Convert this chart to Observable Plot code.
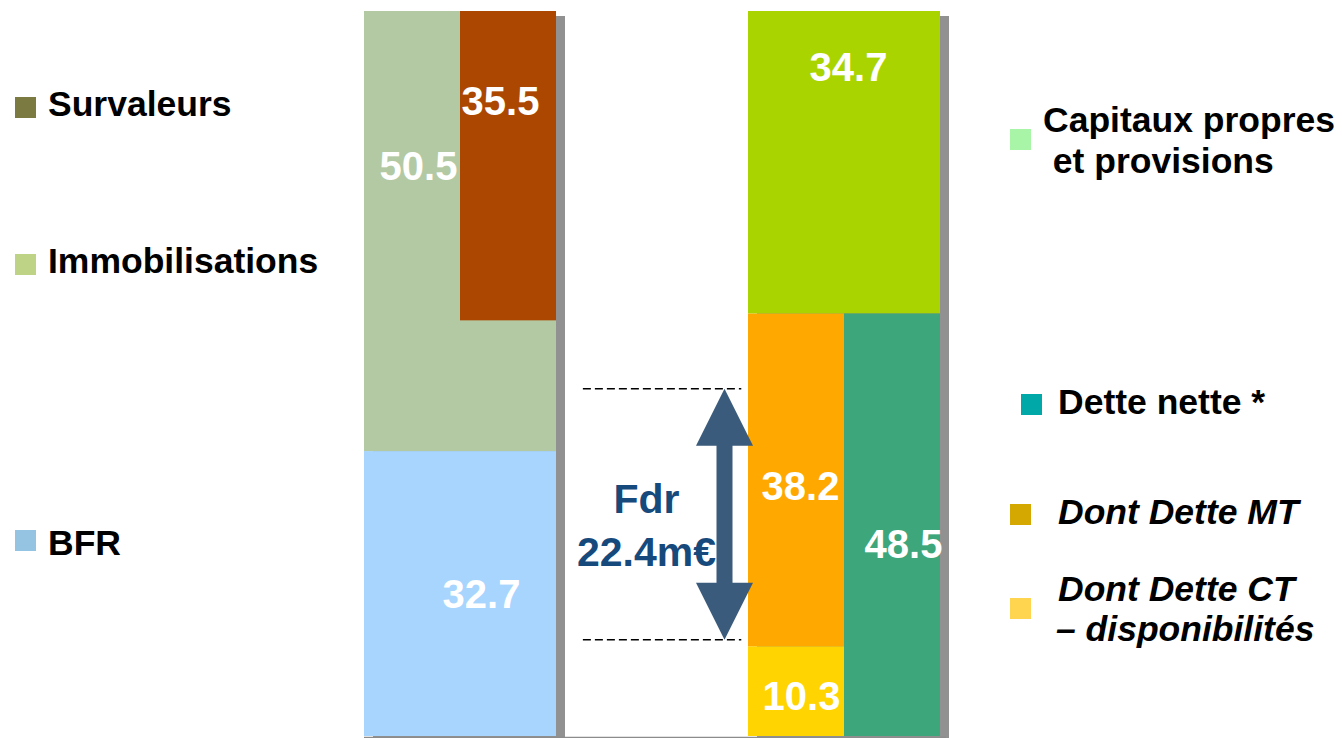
<!DOCTYPE html>
<html>
<head>
<meta charset="utf-8">
<script src="https://cdn.jsdelivr.net/npm/d3@7"></script>
<script src="https://cdn.jsdelivr.net/npm/@observablehq/plot@0.6"></script>
<style>
  body { margin: 0; background: #fff; font-family: "Liberation Sans", Arial, sans-serif; }
  #wrap { position: relative; width: 1342px; height: 738px; overflow: hidden; }
  #wrap > svg { position: absolute; left: 0; top: 0; }
</style>
</head>
<body>
<div id="wrap"></div>
<script>
// ---------- DATA ----------
const actifCategories = ["BFR", "Immobilisations"];
const actifValues = [32.7, 50.5];
const survaleursValue = 35.5;

const passifCategories = ["Dont Dette CT – disponibilités", "Dont Dette MT", "Capitaux propres et provisions"];
const passifValues = [10.3, 38.2, 34.7];
const detteNetteValue = 48.5;

const fdrValue = 22.4;
const fdrBounds = [11.1, 39.9];   // as drawn in the picture
const fdrLabel = "Fdr\n22.4m€";

const legendLeftLabels = [["Survaleurs"], ["Immobilisations"], ["BFR"]];
const legendRightLabels = [["Capitaux propres", " et provisions"], ["Dette nette *"], ["Dont Dette MT"], ["Dont Dette CT", "– disponibilités"]];

// ---------- STYLES / LAYOUT ----------
const barColors = {
  "BFR": "#A8D5FE",
  "Immobilisations": "#B3C9A3",
  "Survaleurs": "#AB4700",
  "Dont Dette CT – disponibilités": "#FFD400",
  "Dont Dette MT": "#FFA800",
  "Capitaux propres et provisions": "#AAD400",
  "Dette nette": "#3DA67B"
};
const W = 1342, H = 738;
const mTop = 11, mBottom = 2, mLeft = 364, mRight = 402;
const total = d3.sum(actifValues);
const pxPerX = (W - mLeft - mRight) / 6;
const pxPerY = (H - mTop - mBottom) / total;
const colStart = {actif: 0, passif: 4};

// stacked segments
function stack(cats, vals, col) {
  let acc = 0;
  return cats.map((c, i) => {
    const s = {name: c, value: vals[i], x1: colStart[col], x2: colStart[col] + 2, y1: acc, y2: acc + vals[i]};
    acc += vals[i];
    return s;
  });
}
const actif = stack(actifCategories, actifValues, "actif");
const passif = stack(passifCategories, passifValues, "passif");
const survaleurs = {name: "Survaleurs", value: survaleursValue, x1: 1, x2: 2, y1: total - survaleursValue, y2: total};
const detteNette = {name: "Dette nette", value: detteNetteValue, x1: 5, x2: 6, y1: 0, y2: detteNetteValue};
const segments = [...actif, survaleurs, ...passif, detteNette].map(d => ({...d, color: barColors[d.name]}));
const columns = [
  {x1: 0, x2: 2, y1: 0, y2: total},
  {x1: 4, x2: 6, y1: 0, y2: d3.sum(passifValues)}
];

// label placements: anchored on segment (left half or centre), pixel offsets
const labelSpec = [
  {seg: actif[1], leftHalf: true, dx: 6, dy: -64},
  {seg: survaleurs, leftHalf: false, dx: -8, dy: -64},
  {seg: actif[0], leftHalf: false, dx: 21, dy: 1},
  {seg: passif[2], leftHalf: false, dx: 4, dy: -94},
  {seg: passif[1], leftHalf: true, dx: 4, dy: 7},
  {seg: passif[0], leftHalf: true, dx: 5, dy: 6},
  {seg: detteNette, leftHalf: false, dx: 11, dy: 20}
];
const labels = labelSpec.map(s => ({
  x: s.leftHalf ? s.seg.x1 + 0.5 : (s.seg.x1 + s.seg.x2) / 2,
  y: (s.seg.y1 + s.seg.y2) / 2,
  text: s.seg.value.toFixed(1), dx: s.dx, dy: s.dy
}));

// Fdr arrow polygon (data units, head sizes from pixels)
const arrowX = 3.75;
const shaftHalf = 8 / pxPerX, headHalf = 28.5 / pxPerX, headH = 57 / pxPerY;
const [lo, hi] = fdrBounds;
const arrowPts = [
  [arrowX, hi], [arrowX + headHalf, hi - headH], [arrowX + shaftHalf, hi - headH],
  [arrowX + shaftHalf, lo + headH], [arrowX + headHalf, lo + headH], [arrowX, lo],
  [arrowX - headHalf, lo + headH], [arrowX - shaftHalf, lo + headH], [arrowX - shaftHalf, hi - headH],
  [arrowX - headHalf, hi - headH]
].map(([x, y]) => ({x, y}));

const font = '"Liberation Sans", Arial, sans-serif';

const chart = Plot.plot({
  width: W, height: H,
  marginTop: mTop, marginBottom: mBottom, marginLeft: mLeft, marginRight: mRight,
  x: {domain: [0, 6], axis: null},
  y: {domain: [0, total], axis: null},
  style: {fontFamily: font, background: "transparent", overflow: "visible"},
  marks: [
    Plot.rect(columns, {x1: "x1", x2: "x2", y1: "y1", y2: "y2", fill: "#919191", dx: 9, dy: 5}),
    Plot.rect(segments, {x1: "x1", x2: "x2", y1: "y1", y2: "y2", fill: "color"}),
    Plot.ruleY([0], {x1: 0, x2: 6 + 6 / pxPerX, stroke: "#8c8c8c", strokeWidth: 1.5, dy: 1}),
    ...labels.map(l => Plot.text([l], {
      x: "x", y: "y", text: "text", dx: l.dx, dy: l.dy,
      fill: "white", fontSize: 40, fontWeight: "bold", fontFamily: font
    })),
    Plot.ruleY(fdrBounds, {x1: 2.28, x2: 3.93, stroke: "#000", strokeWidth: 1.5, strokeDasharray: "8,4"}),
    Plot.text([fdrLabel], {
      x: () => 3, y: () => (lo + hi) / 2, text: d => d, dx: -6, dy: 8,
      fill: "#174A7C", fontSize: 41, fontWeight: "bold", lineHeight: 1.3, fontFamily: font
    }),
    Plot.line(arrowPts, {x: "x", y: "y", fill: "#3A5B7B", stroke: "none", curve: "linear-closed"})
  ]
});
document.getElementById("wrap").appendChild(chart);

// ---------- LEGENDS (overlay) ----------
const legendColors = ["#7B7B41", "#BFD386", "#95C3E2", "#A8F5A8", "#00A8A8", "#D4A800", "#FFD54F"];
const legendLayout = [
  {sq: [15, 97], tx: [48], base: 116},
  {sq: [15, 254], tx: [48], base: 273},
  {sq: [15, 530], tx: [48], base: 555},
  {sq: [1010, 129], tx: [1043, 1043], base: 132, lh: 41},
  {sq: [1021, 394], tx: [1058], base: 414},
  {sq: [1010, 504], tx: [1058], base: 524, italic: true},
  {sq: [1010, 598], tx: [1058, 1056], base: 601, lh: 40, italic: true}
];
const legendLabels = [...legendLeftLabels, ...legendRightLabels];
const svg = d3.select("#wrap").append("svg").attr("width", W).attr("height", H)
  .style("pointer-events", "none");
legendLabels.forEach((lines, i) => {
  const L = legendLayout[i];
  svg.append("rect").attr("x", L.sq[0]).attr("y", L.sq[1]).attr("width", 21).attr("height", 21)
    .attr("fill", legendColors[i]);
  lines.forEach((t, j) => {
    svg.append("text")
      .attr("x", L.tx[j]).attr("y", L.base + j * (L.lh || 0))
      .attr("font-family", font).attr("font-size", 35.5).attr("font-weight", "bold")
      .attr("font-style", L.italic ? "italic" : "normal")
      .attr("xml:space", "preserve").style("white-space", "pre")
      .attr("fill", "#000").text(t);
  });
});
</script>
</body>
</html>
